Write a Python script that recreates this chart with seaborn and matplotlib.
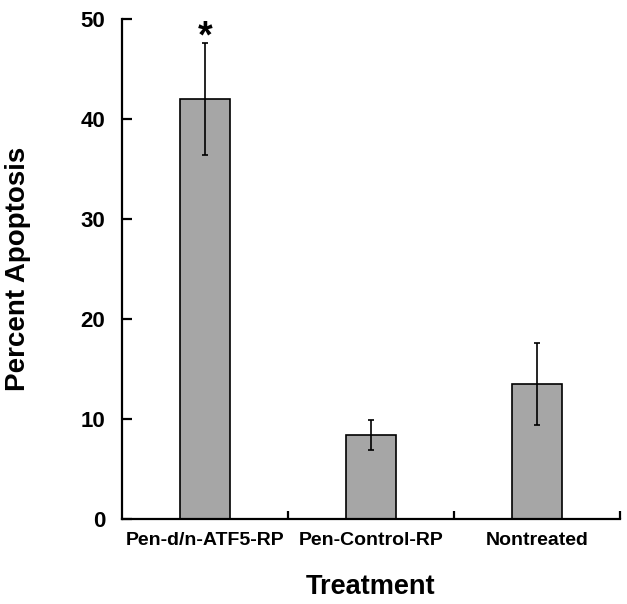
import matplotlib
matplotlib.use("Agg")
import matplotlib.pyplot as plt
import seaborn as sns
import pandas as pd
from matplotlib.ticker import FixedLocator

# --- data ---
treatments = ["Pen-d/n-ATF5-RP", "Pen-Control-RP", "Nontreated"]
apoptosis = [42.0, 8.4, 13.5]
apoptosis_err = [5.6, 1.5, 4.1]
yticks = [0, 10, 20, 30, 40, 50]

sns.set_style("white")
plt.rcParams["font.family"] = ["Liberation Sans", "DejaVu Sans"]
plt.rcParams["font.weight"] = "bold"
plt.rcParams["text.color"] = "black"
plt.rcParams["axes.labelcolor"] = "black"
plt.rcParams["xtick.color"] = "black"
plt.rcParams["ytick.color"] = "black"

df = pd.DataFrame({"Treatment": treatments, "Percent": apoptosis})

fig = plt.figure(figsize=(6.27, 6.04), dpi=100)
ax = fig.add_axes([0.1946, 0.1407, 0.7944, 0.8278])

sns.barplot(data=df, x="Treatment", y="Percent", color="#a6a6a6",
            edgecolor="black", linewidth=1.2, width=0.3, errorbar=None,
            saturation=1, ax=ax)
ax.errorbar(range(len(treatments)), apoptosis, yerr=apoptosis_err,
            fmt="none", ecolor="black", elinewidth=1.2, capsize=2.5,
            capthick=1.2)

# significance marker
ax.text(0, 46.4, "*", ha="center", va="bottom", fontsize=27,
        fontweight="bold", color="black")

ax.set_xlim(-0.5, 2.5)
ax.set_ylim(0, 50)
ax.set_yticks(yticks)
ax.xaxis.set_minor_locator(FixedLocator([0.5, 1.5, 2.5]))

sns.despine(ax=ax)
for side in ("left", "bottom"):
    ax.spines[side].set_linewidth(1.6)
    ax.spines[side].set_color("black")

ax.tick_params(axis="y", which="major", direction="in", length=7,
               width=1.6, labelsize=16, pad=12, left=True)
ax.tick_params(axis="x", which="major", length=0, labelsize=14, pad=9)
ax.tick_params(axis="x", which="minor", direction="in", length=6,
               width=1.6, bottom=True)
for lab in ax.get_xticklabels() + ax.get_yticklabels():
    lab.set_fontweight("bold")

ax.set_xlabel("Treatment", fontsize=19.5, fontweight="bold", labelpad=18)
ax.set_ylabel("Percent Apoptosis", fontsize=20, fontweight="bold",
              labelpad=36)

fig.savefig("out.png", dpi=100)
